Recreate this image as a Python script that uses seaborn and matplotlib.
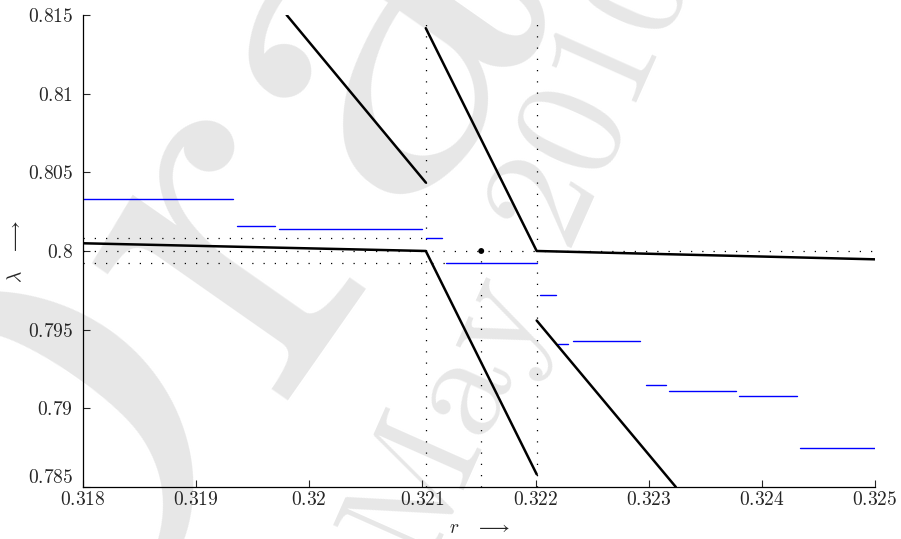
import numpy as np
import pandas as pd
import matplotlib
matplotlib.use("Agg")
import matplotlib.pyplot as plt
import seaborn as sns

# ---- black curves (r, lambda) ----
curve_a_x = [0.318, 0.32103, 0.32201]
curve_a_y = [0.80049, 0.8000, 0.78581]
curve_b_x = [0.32103, 0.32201, 0.325]
curve_b_y = [0.81416, 0.8000, 0.79947]
curve_c_x = [0.3198, 0.32103]
curve_c_y = [0.815, 0.80435]
curve_d_x = [0.32201, 0.32324]
curve_d_y = [0.79558, 0.785]

# ---- blue horizontal steps ----
seg_start = [0.318, 0.31936, 0.31973, 0.32103, 0.32121, 0.32204, 0.32220,
             0.32233, 0.32298, 0.32318, 0.32380, 0.32434]
seg_end = [0.31933, 0.31970, 0.32100, 0.32117, 0.32201, 0.32218, 0.32229,
           0.32292, 0.32315, 0.32377, 0.32431, 0.325]
seg_level = [0.80333, 0.80161, 0.80140, 0.80080, 0.79923, 0.79722, 0.79408,
             0.79428, 0.79148, 0.79113, 0.79077, 0.78748]

# ---- dotted guide lines ----
hdot_y = [0.80080, 0.8000, 0.79923]
hdot_x0 = [0.318, 0.318, 0.318]
hdot_x1 = [0.32103, 0.325, 0.32121]
vdot_x = [0.32103, 0.32152, 0.32201]
vdot_y0 = [0.785, 0.785, 0.785]
vdot_y1 = [0.815, 0.8000, 0.815]

point_x = [0.32152]
point_y = [0.8000]

xticks = [0.318, 0.319, 0.320, 0.321, 0.322, 0.323, 0.324, 0.325]
xtick_labels = ["0.318", "0.319", "0.32", "0.321", "0.322", "0.323", "0.324", "0.325"]
yticks = [0.785, 0.790, 0.795, 0.800, 0.805, 0.810, 0.815]
ytick_labels = ["0.785", "0.79", "0.795", "0.8", "0.805", "0.81", "0.815"]

# ---- build tables ----
curves = pd.concat([
    pd.DataFrame({"r": curve_a_x, "lam": curve_a_y, "id": "a"}),
    pd.DataFrame({"r": curve_b_x, "lam": curve_b_y, "id": "b"}),
    pd.DataFrame({"r": curve_c_x, "lam": curve_c_y, "id": "c"}),
    pd.DataFrame({"r": curve_d_x, "lam": curve_d_y, "id": "d"}),
], ignore_index=True)

steps = pd.DataFrame({
    "r": [v for pair in zip(seg_start, seg_end) for v in pair],
    "lam": [v for lv in seg_level for v in (lv, lv)],
    "id": [i for i in range(len(seg_level)) for _ in (0, 1)],
})

hdots = pd.DataFrame({
    "r": [v for pair in zip(hdot_x0, hdot_x1) for v in pair],
    "lam": [v for lv in hdot_y for v in (lv, lv)],
    "id": [i for i in range(len(hdot_y)) for _ in (0, 1)],
})
vdots = pd.DataFrame({
    "r": [v for xv in vdot_x for v in (xv, xv)],
    "lam": [v for pair in zip(vdot_y0, vdot_y1) for v in pair],
    "id": [i for i in range(len(vdot_x)) for _ in (0, 1)],
})

sns.set_style("ticks")
plt.rcParams["mathtext.fontset"] = "cm"
plt.rcParams["font.family"] = ["DejaVu Serif", "DejaVu Sans"]

fig = plt.figure(figsize=(9.01, 5.39), dpi=100)
fig.patch.set_facecolor("white")

# watermark (pale, behind everything)
wm = "#e7e7e7"
fig.text(0.322, 0.76, "Draft", rotation=55, rotation_mode="anchor",
         fontsize=400, color=wm, family="cmr10", ha="center", va="center",
         zorder=-5)
fig.text(0.585, 0.52, "May 2010", rotation=66, rotation_mode="anchor",
         fontsize=110, color=wm, family="cmr10", ha="center", va="center",
         zorder=-5)

ax = fig.add_axes([0.0921, 0.0965, 0.879, 0.8757])
ax.set_zorder(2)
ax.patch.set_alpha(0)

dot_style = (0, (1, 8))
sns.lineplot(data=hdots, x="r", y="lam", units="id", estimator=None, sort=False,
             color="black", lw=0.9, linestyle=dot_style, ax=ax, legend=False)
sns.lineplot(data=vdots, x="r", y="lam", units="id", estimator=None, sort=False,
             color="black", lw=0.9, linestyle=dot_style, ax=ax, legend=False)
sns.lineplot(data=steps, x="r", y="lam", units="id", estimator=None, sort=False,
             color="#0000ff", lw=1.0, ax=ax, legend=False)
sns.lineplot(data=curves, x="r", y="lam", units="id", estimator=None, sort=False,
             color="black", lw=1.8, ax=ax, legend=False)
sns.scatterplot(x=point_x, y=point_y, color="black", s=18, ax=ax, zorder=5,
                edgecolor="none")

ax.set_xlim(0.318, 0.325)
ax.set_ylim(0.785, 0.815)
ax.set_xticks(xticks)
ax.set_xticklabels([f"${t}$" for t in xtick_labels])
ax.set_yticks(yticks)
ax.set_yticklabels([f"${t}$" for t in ytick_labels])
ax.tick_params(direction="in", length=5, width=0.8, labelsize=14,
               top=False, right=False)
ax.tick_params(axis="x", pad=3)
ax.tick_params(axis="y", pad=7)
# lowest y label sits slightly above its tick, as in the original
ax.get_yticklabels()[0].set_verticalalignment("bottom")
sns.despine(ax=ax)
for s in ("left", "bottom"):
    ax.spines[s].set_linewidth(0.9)
    ax.spines[s].set_color("black")

ax.set_xlabel(r"$r\quad\longrightarrow$", fontsize=14)
ax.set_ylabel(r"$\lambda\quad\longrightarrow$", fontsize=14, rotation=90)
ax.xaxis.set_label_coords(0.5, -0.068)
ax.yaxis.set_label_coords(-0.073, 0.5)
ax.grid(False)

fig.savefig("out.png", dpi=100)
